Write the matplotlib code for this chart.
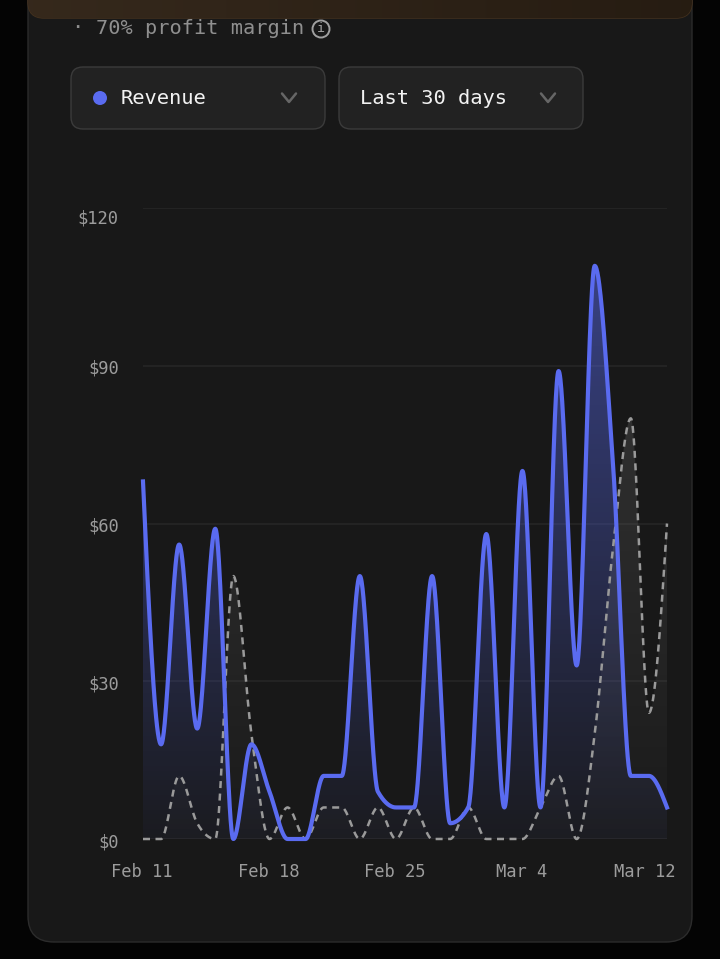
import numpy as np
import matplotlib
matplotlib.use("Agg")
import matplotlib.pyplot as plt
from matplotlib.patches import FancyBboxPatch, Circle
from matplotlib.transforms import ScaledTranslation

plt.rcParams['font.family'] = ['DejaVu Sans Mono', 'DejaVu Sans']

days = np.arange(30)
revenue = [68, 18, 56, 21, 59, 0, 18, 9, 0, 0, 12, 12, 50, 9, 6, 6, 50, 3, 6, 58,
           6, 70, 6, 89, 33, 109, 72, 12, 12, 6]
costs = [0, 0, 12, 3, 0, 50, 20, 0, 6, 0, 6, 6, 0, 6, 0, 6, 0, 0, 6, 0,
         0, 0, 6, 12, 0, 20, 55, 80, 24, 60]
x_ticks = [0, 7, 14, 21, 29]
x_labels = ["Feb 11", "Feb 18", "Feb 25", "Mar 4", "Mar 12"]
y_ticks = [0, 30, 60, 90, 120]
y_labels = ["$0", "$30", "$60", "$90", "$120"]
subtitle = "70% profit margin"
metric_label = "Revenue"
range_label = "Last 30 days"

W, H = 720, 959
BLUE = "#5a6bf0"
GREY = "#9a9a9a"


def monotone(x, y, n=40):
    x = np.asarray(x, float)
    y = np.asarray(y, float)
    h = np.diff(x)
    s = np.diff(y) / h
    m = np.zeros_like(y)
    for i in range(1, len(y) - 1):
        p = (s[i - 1] * h[i] + s[i] * h[i - 1]) / (h[i - 1] + h[i])
        m[i] = (np.sign(s[i - 1]) + np.sign(s[i])) * min(abs(s[i - 1]), abs(s[i]), 0.5 * abs(p))
    m[0] = (3 * s[0] - m[1]) / 2
    m[-1] = (3 * s[-1] - m[-2]) / 2
    xs, ys = [], []
    for i in range(len(h)):
        t = np.linspace(0, 1, n, endpoint=False)
        a = (2 * t**3 - 3 * t**2 + 1) * y[i] + (t**3 - 2 * t**2 + t) * h[i] * m[i]
        b = (-2 * t**3 + 3 * t**2) * y[i + 1] + (t**3 - t**2) * h[i] * m[i + 1]
        xs.append(x[i] + t * h[i])
        ys.append(a + b)
    xs.append(x[-1:])
    ys.append(y[-1:])
    return np.concatenate(xs), np.concatenate(ys)


fig = plt.figure(figsize=(W / 100, H / 100), dpi=100, facecolor="#040404")

# page layer in pixel coordinates
bg = fig.add_axes([0, 0, 1, 1])
bg.set_xlim(0, W)
bg.set_ylim(H, 0)
bg.axis("off")


def rbox(x0, y0, x1, y1, r, fc, ec, lw=1.0, z=1):
    p = FancyBboxPatch((x0 + r, y0 + r), x1 - x0 - 2 * r, y1 - y0 - 2 * r,
                       boxstyle=f"round,pad={r},rounding_size={r}",
                       fc=fc, ec=ec, lw=lw, zorder=z)
    bg.add_patch(p)
    return p


rbox(28, -40, 692, 942, 26, "#181818", "#2c2c2c", 1.0, 1)
banner = rbox(28, -40, 692, 18, 16, "#2a1d14", "#47331f", 1.0, 2)
grad = np.linspace(0, 1, 256).reshape(1, -1)
cols = np.zeros((1, 256, 3))
cols[..., 0] = 0.21 - 0.06 * grad
cols[..., 1] = 0.16 - 0.05 * grad
cols[..., 2] = 0.11 - 0.04 * grad
im = bg.imshow(cols, extent=(28, 692, 18, 0), aspect="auto", zorder=2.5)
im.set_clip_path(banner)
bg.set_xlim(0, W)
bg.set_ylim(H, 0)

bg.text(77, 27, "·", color="#8f8f8f", fontsize=14.6, ha="center", va="center", zorder=3)
bg.text(96, 28, subtitle, color="#8f8f8f", fontsize=14.6, ha="left", va="center", zorder=3)
bg.add_patch(Circle((321, 29), 8.5, fc="none", ec="#a0a0a0", lw=1.4, zorder=3))
bg.text(321, 29, "i", color="#a0a0a0", fontsize=9.5, ha="center", va="center", zorder=3)

rbox(71, 67, 325, 129, 12, "#222222", "#3b3b3b", 1.0, 3)
rbox(339, 67, 583, 129, 12, "#222222", "#3b3b3b", 1.0, 3)
bg.add_patch(Circle((100, 98), 7, fc=BLUE, ec="none", zorder=4))
bg.text(121, 98, metric_label, color="#f2f2f2", fontsize=14.7, ha="left", va="center", zorder=4)
bg.text(360, 98, range_label, color="#f2f2f2", fontsize=14.7, ha="left", va="center", zorder=4)
for cx in (289, 548):
    bg.plot([cx - 7, cx, cx + 7], [93.5, 102, 93.5], color="#666666", lw=1.8, zorder=4,
            solid_capstyle="round", solid_joinstyle="round")

# chart layer
L, R, T, B = 143, 667, 208, 839
ax = fig.add_axes([L / W, 1 - B / H, (R - L) / W, (B - T) / H], facecolor="none")
ax.set_xlim(0, 29)
ax.set_ylim(0, 120)
for s in ax.spines.values():
    s.set_visible(False)
ax.set_yticks(y_ticks)
ax.set_yticklabels(y_labels)
ax.set_xticks(x_ticks)
ax.set_xticklabels(x_labels)
ax.tick_params(length=0, labelcolor="#9c9c9c", labelsize=12.3)
ax.tick_params(axis="y", pad=17.5)
ax.tick_params(axis="x", pad=17.5)
ax.grid(axis="y", color="#262626", lw=1.2, zorder=0)
ax.set_axisbelow(True)

dpi_tr = fig.dpi_scale_trans
for lab in ax.get_yticklabels():
    lab.set_transform(lab.get_transform() + ScaledTranslation(0, -1 / 100, dpi_tr))
top = ax.get_yticklabels()[-1]
top.set_transform(top.get_transform() + ScaledTranslation(0, -7 / 100, dpi_tr))
for lab in ax.get_xticklabels():
    lab.set_transform(lab.get_transform() + ScaledTranslation(-1 / 100, 0, dpi_tr))
last = ax.get_xticklabels()[-1]
last.set_transform(last.get_transform() + ScaledTranslation(-21 / 100, 0, dpi_tr))

cx, cy = monotone(days, costs)
rx, ry = monotone(days, revenue)


def gradient_fill(x, y, rgb, a_top, a_bot, ymax, z):
    poly = ax.fill_between(x, 0, y, color="none", lw=0, zorder=z)
    alpha = np.linspace(a_top, a_bot, 256).reshape(-1, 1)
    img = np.zeros((256, 1, 4))
    img[..., :3] = rgb
    img[..., 3] = alpha
    im = ax.imshow(img, extent=(0, 29, 0, ymax), aspect="auto", origin="upper", zorder=z)
    im.set_clip_path(poly.get_paths()[0], transform=ax.transData)


gradient_fill(rx, ry, (0.35, 0.42, 0.94), 0.50, 0.04, max(revenue), 2)
gradient_fill(cx, cy, (0.62, 0.62, 0.62), 0.18, 0.02, max(costs), 3)
ax.set_xlim(0, 29)
ax.set_ylim(0, 120)

ax.plot(cx, cy, color=GREY, lw=1.8, dashes=(2.8, 2.2), zorder=4, clip_on=False)
ax.plot(rx, ry, color=BLUE, lw=3.0, zorder=5, clip_on=False, solid_joinstyle="round")

fig.savefig("out.png", dpi=100, facecolor=fig.get_facecolor())
